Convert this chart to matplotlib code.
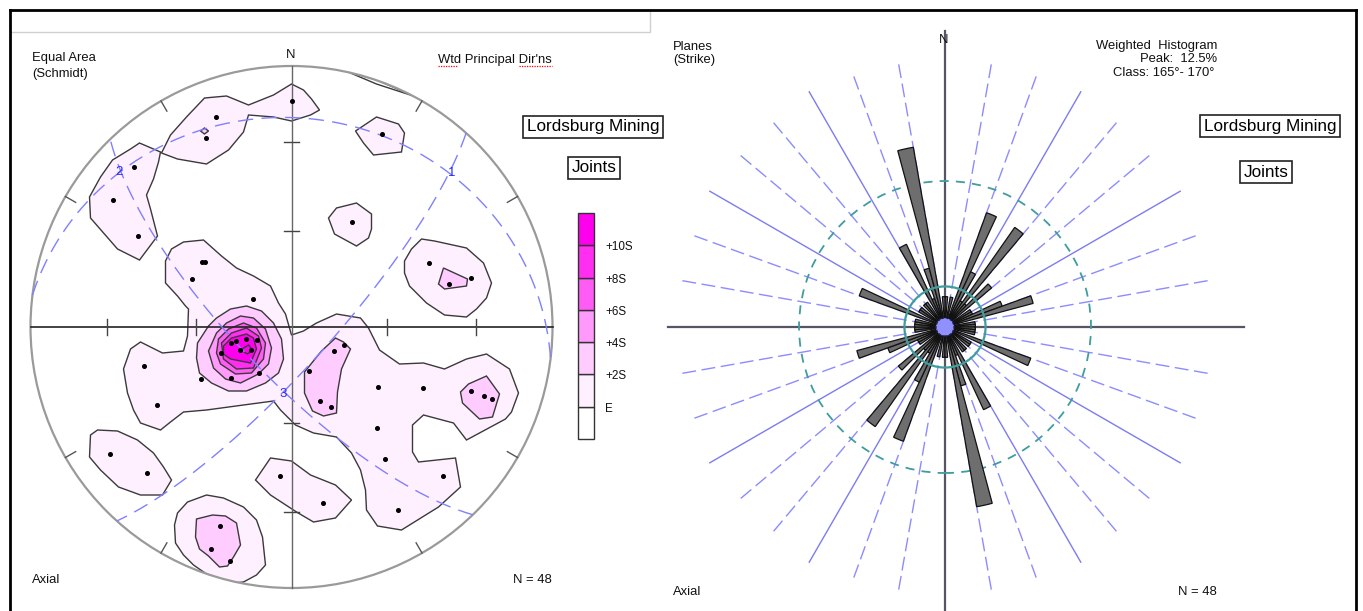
import numpy as np
import matplotlib

matplotlib.use("Agg")
import matplotlib.pyplot as plt
from matplotlib.lines import Line2D
from matplotlib.patches import Circle, Polygon, Rectangle, Wedge

plt.rcParams["font.family"] = ["Liberation Sans", "DejaVu Sans"]

W, H = 1363, 611

# ---------------------------------------------------------------- stereonet
NET_R = 261  # primitive circle radius in net units (x east, y north)

LEVEL_LABELS = ["E", "+2S", "+4S", "+6S", "+8S", "+10S"]
LEVEL_COLORS = ["#fff0ff", "#ffccff", "#ff99fb", "#ff5cf5", "#ff2ef0", "#ff00ee"]

# contour outlines
NW_BAND = [(-130, 174), (-121, 192), (-105, 210), (-87, 229), (-65, 231), (-43, 222),
           (-18, 232), (0, 243), (12, 237), (20, 228), (28, 217), (19, 212), (0, 206),
           (-18, 210), (-43, 212), (-48, 195), (-63, 177), (-85, 163), (-114, 168)]
NW_BAND_SPOT = [(-91, 196), (-87, 199), (-83, 196), (-87, 193)]
WNW_LOBE = [(-152, 184), (-131, 175), (-133, 165), (-138, 148), (-145, 132), (-141, 118),
            (-134, 91), (-152, 67), (-174, 78), (-201, 109), (-202, 130), (-191, 150),
            (-179, 167), (-161, 178)]
NNE_PATCH = [(64, 196), (85, 210), (107, 203), (113, 194), (110, 175), (82, 172), (72, 184)]
RIM_SLIVER = [(55, 256), (85, 247), (125, 230), (85, 243), (59, 254)]
NE_PATCH = [(37, 109), (45, 119), (65, 124), (80, 113), (80, 98), (77, 89), (65, 81), (43, 93)]
ENE_OVAL = [(113, 66), (120, 78), (130, 88), (143, 86), (175, 79), (192, 64), (200, 44),
            (195, 29), (185, 18), (175, 10), (153, 12), (135, 24), (118, 41), (113, 54)]
ENE_CORE = [(152, 59), (176, 48), (175, 41), (153, 38), (147, 43)]
MAIN_BODY = [(-120, 78), (-108, 85), (-88, 87), (-70, 71), (-55, 59), (-38, 51), (-21, 41),
             (-13, 24), (-6, 13), (0, -8), (12, -4), (25, 4), (45, 13), (69, 9), (77, -1),
             (88, -23), (108, -37), (132, -36), (153, -42), (175, -32), (195, -27),
             (218, -42), (227, -66), (220, -85), (214, -92), (175, -113), (162, -96),
             (132, -88), (121, -98), (121, -125), (127, -135), (164, -131), (169, -160),
             (147, -180), (110, -203), (86, -199), (75, -183), (74, -163), (69, -143),
             (60, -126), (45, -110), (22, -106), (4, -98), (-11, -83), (-18, -74),
             (-48, -78), (-85, -83), (-108, -85), (-121, -95), (-131, -103), (-151, -96),
             (-158, -83), (-164, -66), (-168, -42), (-161, -22), (-151, -15), (-129, -26),
             (-108, -24), (-104, -9), (-103, 18), (-106, 21), (-114, 31), (-126, 44),
             (-126, 66)]
PEAK_2S = [(-94, -16), (-83, 1), (-75, 9), (-61, 18), (-45, 21), (-30, 16), (-18, 4),
           (-10, -12), (-8, -32), (-13, -46), (-26, -56), (-45, -64), (-63, -64),
           (-80, -56), (-92, -46), (-95, -31)]
PEAK_4S = [(-83, -24), (-75, -6), (-65, 4), (-51, 11), (-38, 9), (-26, -2), (-20, -21),
           (-23, -37), (-33, -47), (-51, -56), (-66, -52), (-78, -41)]
PEAK_6S = [(-73, -12), (-63, -2), (-48, 4), (-35, -1), (-26, -16), (-28, -32), (-40, -46),
           (-56, -47), (-71, -37), (-75, -26)]
PEAK_8S = [(-70, -16), (-60, -6), (-45, -1), (-33, -9), (-30, -21), (-38, -41), (-55, -42),
           (-68, -32)]
PEAK_10S = [(-68, -19), (-60, -11), (-45, -7), (-38, -11), (-35, -22), (-41, -36),
            (-61, -32), (-68, -27)]
PEAK_TOP = [(-51, -23), (-43, -18), (-39, -23), (-44, -27)]
SSE_CORE = [(13, -45), (30, -24), (44, -11), (52, -15), (59, -22), (50, -42), (46, -65),
            (45, -86), (32, -89), (21, -84), (13, -66)]
ESE_CORE = [(169, -65), (177, -57), (195, -49), (208, -67), (201, -90), (188, -92), (171, -76)]
SW_OVAL = [(-201, -108), (-194, -103), (-174, -104), (-154, -113), (-138, -126),
           (-128, -140), (-120, -153), (-129, -168), (-151, -168), (-173, -160),
           (-191, -143), (-202, -130)]
S_PATCH = [(-36, -153), (-21, -131), (0, -134), (19, -148), (44, -158), (60, -173),
           (44, -191), (22, -195), (5, -185), (-21, -168)]
SSW_LOBE = [(-117, -198), (-114, -186), (-104, -175), (-85, -168), (-68, -171), (-48, -180),
            (-35, -193), (-29, -210), (-26, -238), (-35, -248), (-48, -255), (-58, -256),
            (-85, -247), (-98, -238), (-108, -228), (-116, -216)]
SSW_CORE = [(-95, -192), (-79, -188), (-66, -189), (-55, -196), (-51, -218), (-58, -230),
            (-64, -239), (-72, -240), (-83, -229), (-92, -222), (-96, -210)]

# (outline, level index; -1 = below E)
CONTOURS = [
    (NW_BAND, 0), (NW_BAND_SPOT, 1), (WNW_LOBE, 0), (NNE_PATCH, 0), (RIM_SLIVER, -1),
    (NE_PATCH, 0), (ENE_OVAL, 0), (ENE_CORE, 1), (MAIN_BODY, 0), (PEAK_2S, 1),
    (PEAK_4S, 2), (PEAK_6S, 3), (PEAK_8S, 4), (PEAK_10S, 5), (PEAK_TOP, 5),
    (SSE_CORE, 1), (ESE_CORE, 1), (SW_OVAL, 0), (S_PATCH, 0), (SSW_LOBE, 0),
    (SSW_CORE, 1),
]

# plotted poles, net units
POLE_X = [-76, -86, 0, -158, -179, -154, 90, 60, 137, 179, 157, -90, -87, -100, -39,
          -61, -56, -46, -35, -71, -52, -41, -33, -61, -91, -148, -135, 42, 52, 17, 28,
          39, 86, 131, 85, 93, 151, 106, 179, 192, 200, -182, -145, -12, 31, -72, -81,
          -62]
POLE_Y = [210, 189, 226, 160, 127, 91, 193, 105, 64, 49, 43, 65, 65, 48, 28,
          -16, -14, -12, -13, -26, -23, -23, -46, -51, -52, -39, -78, -24, -18, -44, -74,
          -80, -60, -61, -101, -132, -149, -183, -64, -69, -72, -127, -146, -149, -176,
          -199, -222, -234]

# weighted principal directions (trend, plunge in degrees)
PRINCIPAL_LABELS = ["1", "2", "3"]
PRINCIPAL_TREND = [46, 312, 187]
PRINCIPAL_PLUNGE = [16, 12, 69]

# ------------------------------------------------------------------- rose
ROSE_CLASS_START = list(range(0, 180, 5))
ROSE_PCT = [2.08, 0, 2.08, 0, 8.33, 4.17, 2.08, 8.33, 2.08, 4.17, 0, 2.08,
            2.08, 4.17, 6.25, 0, 2.08, 2.08, 2.08, 2.08, 2.08, 0, 6.25, 0,
            2.08, 2.08, 0, 2.08, 2.08, 0, 6.25, 2.08, 4.17, 12.5, 0, 2.08]
ROSE_CLASS_WIDTH = 5
ROSE_RING_PCT = 10.0
ROSE_EXPECTED_PCT = 100.0 / 36
N_DATA = 48


def fig_xy(x, y):
  return x / W, 1 - y / H


def project(vecs):
  vecs = np.atleast_2d(vecs)
  down = np.clip(vecs[:, 2], 0, None)
  scale = 1.0 / np.sqrt(1.0 + down)
  return vecs[:, 0] * scale, vecs[:, 1] * scale


def pole_vector(trend, plunge):
  t, p = np.radians(trend), np.radians(plunge)
  return np.array([np.cos(p) * np.sin(t), np.cos(p) * np.cos(t), np.sin(p)])


def great_circle(trend, plunge):
  pole = pole_vector(trend, plunge)
  t = np.radians(trend)
  strike = np.array([np.cos(t), -np.sin(t), 0.0])
  dip = np.cross(pole, strike)
  if dip[2] < 0:
    dip = -dip
  th = np.linspace(0, np.pi, 241)
  vecs = np.outer(np.cos(th), strike) + np.outer(np.sin(th), dip)
  return project(vecs)


fig = plt.figure(figsize=(W / 100, H / 100), dpi=100)
fig.patch.set_facecolor("white")

# frame
frame = dict(transform=fig.transFigure, color="black", lw=2)
fig.add_artist(Line2D(*zip(fig_xy(10, 10), fig_xy(1356, 10)), **frame))
fig.add_artist(Line2D(*zip(fig_xy(10, 10), fig_xy(10, 611)), **frame))
fig.add_artist(Line2D(*zip(fig_xy(1356, 10), fig_xy(1356, 611)), **frame))
fig.add_artist(Rectangle(fig_xy(10, 32), 640 / W, 22 / H, transform=fig.transFigure,
                         fc="none", ec="#cfcfcf", lw=1))

# ---------------------------------------------------------------- left: net
lim = 1.08 * NET_R
ax = fig.add_axes([(291.5 - lim) / W, (284 - lim) / H, 2 * lim / W, 2 * lim / H])
ax.set_xlim(-lim, lim)
ax.set_ylim(-lim, lim)
ax.axis("off")
ax.patch.set_alpha(0)

clip = Circle((0, 0), NET_R, transform=ax.transData)
for outline, level in CONTOURS:
  fc = "white" if level < 0 else LEVEL_COLORS[level]
  patch = Polygon(np.array(outline, float), closed=True, fc=fc, ec="#3a3a3a",
                  lw=1.0, zorder=1)
  ax.add_patch(patch)
  patch.set_clip_path(clip)

ax.add_patch(Circle((0, 0), NET_R, fill=False, ec="#9a9a9a", lw=1.6, zorder=2))
ax.plot([-NET_R, NET_R], [0, 0], color="#222222", lw=1.2, zorder=2)
ax.plot([0, 0], [-NET_R, NET_R], color="#666666", lw=1.0, zorder=2)

tick_r = [np.sqrt(2) * np.sin(np.radians(15)), np.sqrt(2) * np.sin(np.radians(30))]
half = 0.03 * NET_R
for r in tick_r:
  for s in (-1, 1):
    ax.plot([s * r * NET_R] * 2, [-half, half], color="#444444", lw=1.0, zorder=2)
    ax.plot([-half, half], [s * r * NET_R] * 2, color="#444444", lw=1.0, zorder=2)
for az in range(30, 360, 30):
  if az % 90 == 0:
    continue
  a = np.radians(az)
  ax.plot([np.sin(a) * NET_R, np.sin(a) * NET_R * 0.955],
          [np.cos(a) * NET_R, np.cos(a) * NET_R * 0.955],
          color="#555555", lw=1.0, zorder=2)

for lab, tr, pl in zip(PRINCIPAL_LABELS, PRINCIPAL_TREND, PRINCIPAL_PLUNGE):
  gx, gy = great_circle(tr, pl)
  ax.plot(gx * NET_R, gy * NET_R, color="#8080ff", lw=1.0,
          linestyle=(0, (11, 6)), zorder=2)
  px, py = project(pole_vector(tr, pl))
  ax.text(px[0] * NET_R, py[0] * NET_R, lab, color="#2a2aff", fontsize=9.5,
          ha="center", va="center", zorder=5)

ax.plot(POLE_X, POLE_Y, "o", ms=2.6, color="black", zorder=4)

txt = dict(fontsize=9.4, color="#111111", va="center")
fig.text(*fig_xy(32, 58), "Equal Area", **txt)
fig.text(*fig_xy(32, 74), "(Schmidt)", **txt)
fig.text(*fig_xy(291, 55), "N", ha="center", **txt)
fig.text(*fig_xy(438, 60), "Wtd Principal Dir'ns", **txt)
squig = dict(transform=fig.transFigure, color="red", lw=0.9, linestyle=(0, (1, 1)))
fig.add_artist(Line2D(*zip(fig_xy(438, 66), fig_xy(458, 66)), **squig))
fig.add_artist(Line2D(*zip(fig_xy(519, 66), fig_xy(552, 66)), **squig))
fig.text(*fig_xy(32, 580), "Axial", **txt)
fig.text(*fig_xy(552, 580), "N = %d" % N_DATA, ha="right", **txt)

box = dict(boxstyle="square,pad=0.22", fc="white", ec="#222222", lw=1.2)
fig.text(*fig_xy(593, 127), "Lordsburg Mining", fontsize=12.3, ha="center",
         va="center", bbox=box)
fig.text(*fig_xy(594, 168), "Joints", fontsize=12.3, ha="center", va="center",
         bbox=box)

# contour legend
lax = fig.add_axes([578 / W, (H - 439) / H, 16 / W, 226 / H])
lax.set_xlim(0, 1)
lax.set_ylim(0, 7)
lax.axis("off")
for i, c in enumerate(["white"] + LEVEL_COLORS):
  lax.bar(0.5, 1, bottom=i, width=1, color=c, edgecolor="#333333", lw=1.0,
          clip_on=False)
for i, lab in enumerate(LEVEL_LABELS):
  lax.text(1.7, i + 1 - 0.06, lab, fontsize=8.4, ha="left", va="center",
           color="#111111", clip_on=False)

# ---------------------------------------------------------------- right: rose
PX_PER_PCT = 14.6
rx0, rx1, ry0, ry1 = -21.0, 22.0, -19.5, 21.0
rax = fig.add_axes([(945 + rx0 * PX_PER_PCT) / W, (284 + ry0 * PX_PER_PCT) / H,
                    (rx1 - rx0) * PX_PER_PCT / W, (ry1 - ry0) * PX_PER_PCT / H])
rax.set_xlim(rx0, rx1)
rax.set_ylim(ry0, ry1)
rax.axis("off")
rax.patch.set_alpha(0)

spoke_len = 18.6
for az in range(10, 360, 10):
  if az % 90 == 0:
    continue
  a = np.radians(az)
  solid = az % 30 == 0
  rax.plot([0, spoke_len * np.sin(a)], [0, spoke_len * np.cos(a)],
           color="#7c7cf0" if solid else "#8c8cff", lw=1.0,
           linestyle="-" if solid else (0, (10, 4)), zorder=1)

rax.plot([-19.0, 20.5], [0, 0], color="#555566", lw=1.6, zorder=2)
rax.plot([0, 0], [-19.5, 20.3], color="#555566", lw=1.6, zorder=2)

rax.add_patch(Circle((0, 0), ROSE_RING_PCT, fill=False, ec="#3f9d9d", lw=1.3,
                     linestyle=(0, (5, 4)), zorder=2))

for start, pct in zip(ROSE_CLASS_START, ROSE_PCT):
  if pct <= 0:
    continue
  for base in (start, start + 180):
    rax.add_patch(Wedge((0, 0), pct, 90 - base - ROSE_CLASS_WIDTH, 90 - base,
                        fc="#6e6e6e", ec="#111111", lw=0.9, zorder=3))

rax.add_patch(Circle((0, 0), ROSE_EXPECTED_PCT, fill=False, ec="#3f9d9d", lw=1.6,
                     zorder=4))
rax.add_patch(Circle((0, 0), 0.62, fc="#9090ff", ec="#222244", lw=1.0,
                     linestyle=(0, (2, 1)), zorder=5))

fig.text(*fig_xy(673, 47), "Planes", **txt)
fig.text(*fig_xy(673, 60), "(Strike)", **txt)
fig.text(*fig_xy(944, 40), "N", ha="center", **txt)
fig.text(*fig_xy(1217, 46), "Weighted  Histogram", ha="right", **txt)
fig.text(*fig_xy(1217, 59), "Peak:  %.1f%%" % max(ROSE_PCT), ha="right", **txt)
peak = ROSE_CLASS_START[int(np.argmax(ROSE_PCT))]
fig.text(*fig_xy(1214, 73), "Class: %d°- %d°" % (peak, peak + ROSE_CLASS_WIDTH),
         ha="right", **txt)
fig.text(*fig_xy(673, 592), "Axial", **txt)
fig.text(*fig_xy(1217, 592), "N = %d" % N_DATA, ha="right", **txt)
fig.text(*fig_xy(1270, 126), "Lordsburg Mining", fontsize=12.3, ha="center",
         va="center", bbox=box)
fig.text(*fig_xy(1266, 172), "Joints", fontsize=12.3, ha="center", va="center",
         bbox=box)

fig.savefig("out.png", dpi=100)
